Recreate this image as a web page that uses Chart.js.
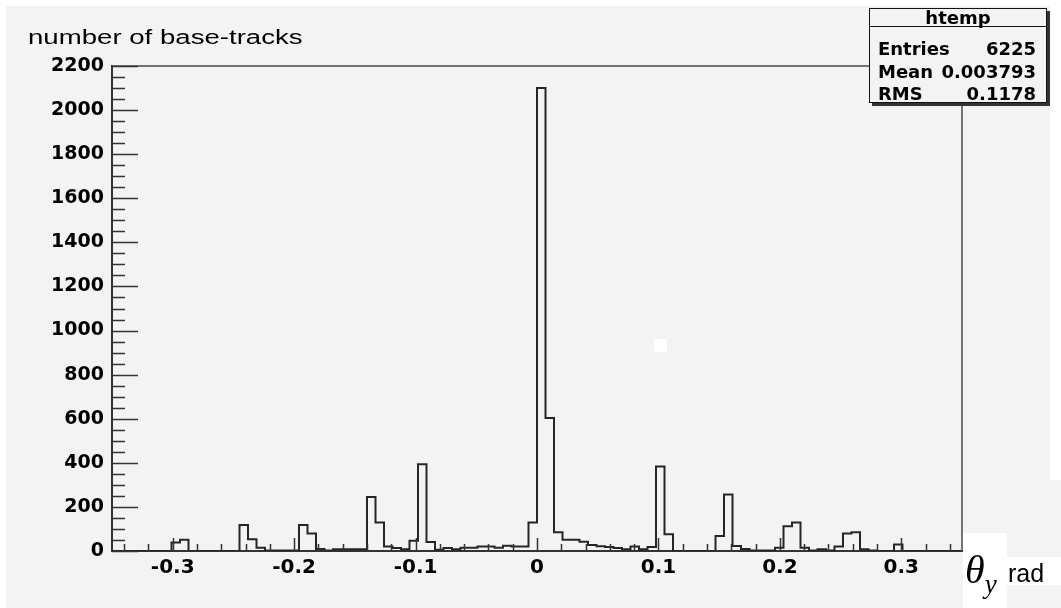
<!DOCTYPE html>
<html>
<head>
<meta charset="utf-8">
<script src="https://cdn.jsdelivr.net/npm/chart.js@4.4.0/dist/chart.umd.min.js"></script>
<style>
  body { margin: 0; background: #fff; }
  #wrap { position: relative; width: 1061px; height: 608px; overflow: hidden; background: #fff; }
  #pad { position: absolute; left: 6px; top: 6px; width: 1044px; height: 602px; background: #f3f3f3; }
  #pad2 { position: absolute; left: 1000px; top: 480px; width: 61px; height: 128px; background: #f3f3f3; }
  canvas { position: absolute; left: 0; top: 0; }
  .t { position: absolute; white-space: nowrap; color: #000; line-height: 1; }
  #ytitle { left: 28px; top: 26px; font: 20px 'Liberation Sans', Arial, sans-serif; transform-origin: left top; transform: scaleX(1.38); }
  #stats { position: absolute; left: 869px; top: 8px; width: 176px; height: 93px; border: 1px solid #111; background: #f3f3f3;
           box-shadow: 3px 3px 0 #333; font: bold 18px 'DejaVu Sans', sans-serif; }
  #stats .hd { position: absolute; left: 0; right: 0; top: 0; height: 17px; border-bottom: 1px solid #111; text-align: center; line-height: 17px; }
  #stats .l { position: absolute; left: 8px; }
  #stats .r { position: absolute; right: 10px; }
  #dot { position: absolute; left: 654px; top: 339px; width: 13px; height: 13px; background: #fff; }
  #thbox { position: absolute; left: 963px; top: 533px; width: 44px; height: 75px; background: #fff; }
  #radbox { position: absolute; left: 1007px; top: 557px; width: 54px; height: 28px; background: #fff; }
  #theta { left: 965px; top: 546px; font: italic 40px 'Liberation Serif', serif; }
  #theta sub { font-size: 27px; vertical-align: -10px; }
  #rad { left: 1008px; top: 559px; font: 25px 'Liberation Sans', Arial, sans-serif; }
</style>
</head>
<body>
<div id="wrap">
  <div id="pad"></div>
  <div id="pad2"></div>
  <canvas id="hist" width="1061" height="608"></canvas>
  <div id="dot"></div>
  <div class="t" id="ytitle">number of base-tracks</div>
  <div id="stats">
    <div class="hd">htemp</div>
    <span class="l" style="top:29px">Entries</span><span class="r" style="top:29px">6225</span>
    <span class="l" style="top:52px">Mean</span><span class="r" style="top:52px">0.003793</span>
    <span class="l" style="top:74px">RMS</span><span class="r" style="top:74px">0.1178</span>
  </div>
  <div id="thbox"></div>
  <div id="radbox"></div>
  <div class="t" id="theta">θ<sub>y</sub></div>
  <div class="t" id="rad">rad</div>
</div>
<script>
// htemp: 100 bins from -0.35 to 0.35
var binLow = -0.35;
var binHigh = 0.35;
var nBins = 100;

var counts = [
  0, 0, 0, 0, 0, 0, 0, 39, 51, 0,
  0, 0, 0, 0, 0, 118, 53, 15, 2, 2,
  2, 2, 118, 79, 9, 2, 8, 8, 8, 8,
  245, 129, 20, 14, 8, 47, 394, 41, 6, 14,
  8, 15, 15, 20, 20, 15, 24, 20, 20, 129,
  2100, 603, 85, 51, 51, 42, 27, 22, 18, 14,
  8, 20, 8, 18, 383, 76, 0, 0, 0, 0,
  0, 68, 256, 23, 9, 2, 2, 2, 15, 112,
  129, 15, 2, 8, 2, 20, 79, 85, 8, 2,
  0, 0, 30, 0, 0, 0, 0, 0, 0, 0
];

var yMax = 2200;
var yStep = 50, yLabelStep = 200;
var xStep = 0.02, xLabelStep = 0.1;

// bin left edges -> stepped outline
var binW = (binHigh - binLow) / nBins;
var pts = counts.map(function (c, i) { return { x: binLow + i * binW, y: c }; });
pts.push({ x: binHigh, y: 0 });

function isMult(v, s) {
  var q = v / s;
  return Math.abs(q - Math.round(q)) < 1e-6;
}

// ROOT style: ticks drawn inward, frame on top and right
var rootFrame = {
  id: 'rootFrame',
  afterDraw: function (chart) {
    var ctx = chart.ctx, a = chart.chartArea;
    var xs = chart.scales.x, ys = chart.scales.y;
    ctx.save();
    ctx.strokeStyle = '#4a4a4a';
    ctx.lineWidth = 1.5;
    ctx.beginPath();
    ctx.moveTo(a.left, a.top); ctx.lineTo(a.right, a.top); ctx.lineTo(a.right, a.bottom);
    ctx.stroke();
    ctx.strokeStyle = '#333';
    ctx.beginPath();
    xs.ticks.forEach(function (t) {
      if (!isMult(t.value, xStep) || t.value <= binLow + 1e-9 || t.value >= binHigh - 1e-9) return;
      var px = Math.round(xs.getPixelForValue(t.value)) + 0.5;
      var len = isMult(t.value, xLabelStep) ? 13 : 7;
      ctx.moveTo(px, a.bottom); ctx.lineTo(px, a.bottom - len);
    });
    ys.ticks.forEach(function (t) {
      if (!isMult(t.value, yStep)) return;
      var py = Math.round(ys.getPixelForValue(t.value)) + 0.5;
      var len = isMult(t.value, yLabelStep) ? 26 : 13;
      ctx.moveTo(a.left, py); ctx.lineTo(a.left + len, py);
    });
    ctx.stroke();
    ctx.restore();
  }
};

new Chart(document.getElementById('hist'), {
  type: 'line',
  data: {
    datasets: [{
      label: 'htemp',
      data: pts,
      stepped: true,
      borderColor: '#262626',
      borderWidth: 2,
      pointRadius: 0,
      fill: false
    }]
  },
  options: {
    responsive: false,
    animation: false,
    devicePixelRatio: 1,
    layout: { padding: { top: 66, right: 99, left: 0, bottom: 0 } },
    plugins: { legend: { display: false }, tooltip: { enabled: false } },
    scales: {
      x: {
        type: 'linear',
        min: binLow,
        max: binHigh,
        grid: { display: false, drawTicks: false },
        border: { display: true, color: '#333', width: 2 },
        afterFit: function (s) { s.height = 57; },
        ticks: {
          stepSize: 0.01,
          autoSkip: false,
          maxRotation: 0,
          padding: 5,
          color: '#000',
          font: { family: 'DejaVu Sans', weight: 'bold', size: 20 },
          callback: function (v) {
            if (!isMult(v, xLabelStep)) return '';
            var r = Math.round(v * 10) / 10;
            return r === 0 ? '0' : r.toFixed(1);
          }
        }
      },
      y: {
        min: 0,
        max: yMax,
        grid: { display: false, drawTicks: false },
        border: { display: true, color: '#333', width: 2 },
        afterFit: function (s) { s.width = 112; },
        ticks: {
          stepSize: yStep,
          autoSkip: false,
          padding: 8,
          color: '#000',
          font: { family: 'DejaVu Sans', weight: 'bold', size: 19 },
          callback: function (v) { return isMult(v, yLabelStep) ? String(v) : ''; }
        }
      }
    }
  },
  plugins: [rootFrame]
});
</script>
</body>
</html>
